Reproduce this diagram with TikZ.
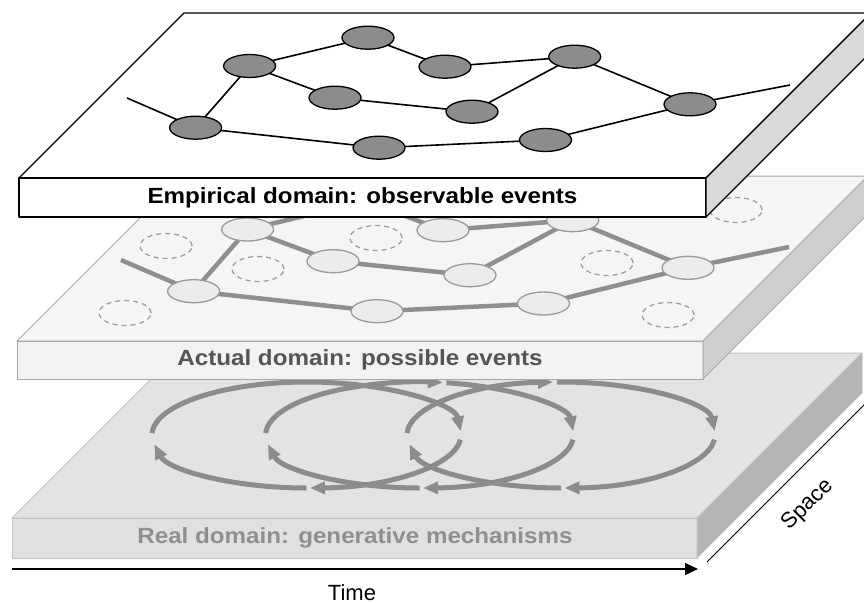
\documentclass[tikz,border=0pt]{standalone}
\usepackage{fontspec}
\setmainfont{Liberation Sans}
\usetikzlibrary{arrows.meta,shapes.geometric,calc}

\definecolor{obsfill}{HTML}{8C8C8C}
\definecolor{actfill}{HTML}{ECECEC}
\definecolor{actline}{HTML}{9A9A9A}
\definecolor{actedge}{HTML}{8F8F8F}
\definecolor{mechcol}{HTML}{8C8C8C}
\definecolor{acttext}{HTML}{555555}
\definecolor{realtext}{HTML}{8F8F8F}

\begin{document}
\begin{tikzpicture}[x=1pt,y=-1pt,
  % slab faces
  empface/.style={draw=black,line width=1.3pt,line join=round},
  actface/.style={draw=black!34,line width=1pt,line join=round},
  realface/.style={draw=black!24,line width=1pt,line join=round},
  % labels on the front faces
  title/.style={font=\fontsize{22}{26}\selectfont\bfseries,xscale=1.1,inner sep=0pt},
  axislabel/.style={font=\fontsize{22}{26}\selectfont,inner sep=0pt},
  % events
  obs/.style={ellipse,draw=black,fill=obsfill,line width=1.3pt,
    minimum width=52pt,minimum height=23pt,inner sep=0pt},
  act/.style={ellipse,draw=actline,fill=actfill,line width=1.3pt,
    minimum width=52pt,minimum height=23pt,inner sep=0pt},
  latent/.style={ellipse,draw=black!38,dash pattern=on 5pt off 4pt,line width=1.3pt,
    minimum width=52pt,minimum height=25pt,inner sep=0pt},
  obsedge/.style={draw=black,line width=1.6pt},
  actedge/.style={draw=actedge,line width=4.5pt},
  % generative mechanisms
  mech/.style={draw=mechcol,line width=5pt,-{Triangle[length=15pt,width=12pt]}},
  axis/.style={draw=black,line width=1.2pt}
]
\useasboundingbox (0,0) rectangle (864,602);
\clip (0,0) rectangle (864,602);

% ---------- real domain slab ----------
\path[realface,fill=black!11] (12,518) -- (177,353) -- (862,353) -- (697,518) -- cycle;
\path[realface,fill=black!12] (12,518) rectangle (697,558);
\path[realface,fill=black!29] (697,518) -- (862,353) -- (862,393) -- (697,558) -- cycle;
\node[title,text=realtext] (realL) at (355,538) {Real domain: generative mechanisms};

% mechanism cycles
\coordinate (c1) at (306.5,435);
\coordinate (c2) at (419.6,435);
\coordinate (c3) at (561,435);
% cycle 1
\draw[mech] (c1) ++(182:154.5 and 53) arc[start angle=182,end angle=356,x radius=154.5,y radius=53];
\draw[mech] (c1) ++(5:154.5 and 53) arc[start angle=5,end angle=88.7,x radius=154.5,y radius=53];
\draw[mech] (c1) ++(90:154.5 and 53) arc[start angle=90,end angle=170,x radius=154.5,y radius=53];
% cycle 2
\draw[mech] (c2) ++(182:154 and 53) arc[start angle=182,end angle=278.7,x radius=154,y radius=53];
\draw[mech] (c2) ++(280:154 and 53) arc[start angle=280,end angle=356,x radius=154,y radius=53];
\draw[mech] (c2) ++(5:154 and 53) arc[start angle=5,end angle=88.7,x radius=154,y radius=53];
\draw[mech] (c2) ++(90:154 and 53) arc[start angle=90,end angle=170,x radius=154,y radius=53];
% cycle 3
\draw[mech] (c3) ++(182:154 and 53) arc[start angle=182,end angle=267,x radius=154,y radius=53];
\draw[mech] (c3) ++(268.5:154 and 53) arc[start angle=268.5,end angle=356,x radius=154,y radius=53];
\draw[mech] (c3) ++(5:154 and 53) arc[start angle=5,end angle=88.7,x radius=154,y radius=53];
\draw[mech] (c3) ++(90:154 and 53) arc[start angle=90,end angle=170,x radius=154,y radius=53];

% ---------- actual domain slab ----------
\path[actface,fill=black!4] (17,341) -- (182,176) -- (868,176) -- (703,341) -- cycle;
\path[actface,fill=black!5] (17,341) rectangle (703,379);
\path[actface,fill=black!19] (703,341) -- (868,176) -- (868,214) -- (703,379) -- cycle;
\node[title,text=acttext] (actL) at (360,360) {Actual domain: possible events};

% possible events that did not happen
\node[latent] (d1) at (166,246) {};
\node[latent] (d2) at (376,238) {};
\node[latent] (d3) at (258,269) {};
\node[latent] (d4) at (125,313) {};
\node[latent] (d5) at (736,210) {};
\node[latent] (d6) at (607,263) {};
\node[latent] (d7) at (668,315) {};

% actual events
\coordinate (mL) at (121,260);
\coordinate (mR) at (789,247);
\coordinate (pa) at (193.6,291.2);
\coordinate (pb) at (247.6,229.5);
\coordinate (pc) at (366,201.2);
\coordinate (pd) at (443,230.2);
\coordinate (pe) at (572.7,220.2);
\coordinate (pf) at (333,261.2);
\coordinate (pg) at (470,275.2);
\coordinate (ph) at (688,267.8);
\coordinate (pi) at (377,311.2);
\coordinate (pj) at (543.5,303.5);
\draw[actedge] (mL) -- (pa) -- (pb) -- (pc) -- (pd) -- (pe) -- (ph) -- (mR);
\draw[actedge] (pb) -- (pf) -- (pg) -- (pe);
\draw[actedge] (pa) -- (pi) -- (pj) -- (ph);
\foreach \n in {a,b,c,d,e,f,g,h,i,j}
  \node[act] (m\n) at (p\n) {};

% ---------- empirical domain slab ----------
\path[empface,fill=white] (19,178) -- (184,13) -- (871,13) -- (706,178) -- cycle;
\path[empface,fill=white] (19,178) rectangle (706,217);
\path[empface,fill=black!15] (706,178) -- (871,13) -- (871,52) -- (706,217) -- cycle;
\node[title,text=black] (empL) at (362.5,197.5) {Empirical domain: observable events};

% observed events
\coordinate (tL) at (127,98);
\coordinate (tR) at (790,85);
\coordinate (qa) at (195.6,127.7);
\coordinate (qb) at (249.6,66);
\coordinate (qc) at (368,37.7);
\coordinate (qd) at (445,66.7);
\coordinate (qe) at (574.7,56.7);
\coordinate (qf) at (335,97.7);
\coordinate (qg) at (472,111.7);
\coordinate (qh) at (690,104.3);
\coordinate (qi) at (379,147.7);
\coordinate (qj) at (545.5,140);
\draw[obsedge] (tL) -- (qa) -- (qb) -- (qc) -- (qd) -- (qe) -- (qh) -- (tR);
\draw[obsedge] (qb) -- (qf) -- (qg) -- (qe);
\draw[obsedge] (qa) -- (qi) -- (qj) -- (qh);
\foreach \n in {a,b,c,d,e,f,g,h,i,j}
  \node[obs] (o\n) at (q\n) {};

% ---------- axes ----------
\coordinate (t0) at (12,569);
\coordinate (t1) at (698,569);
\draw[axis,-{Triangle[length=13pt,width=12pt]}] (t0) -- (t1);
\node[axislabel] (timeL) at (352,593) {Time};
\coordinate (s0) at (707,562);
\coordinate (s1) at (880,389);
\draw[draw=black,line width=0.9pt] (s0) -- (s1);
\node[axislabel,rotate=45] (spaceL) at (808,505) {Space};
\end{tikzpicture}
\end{document}
